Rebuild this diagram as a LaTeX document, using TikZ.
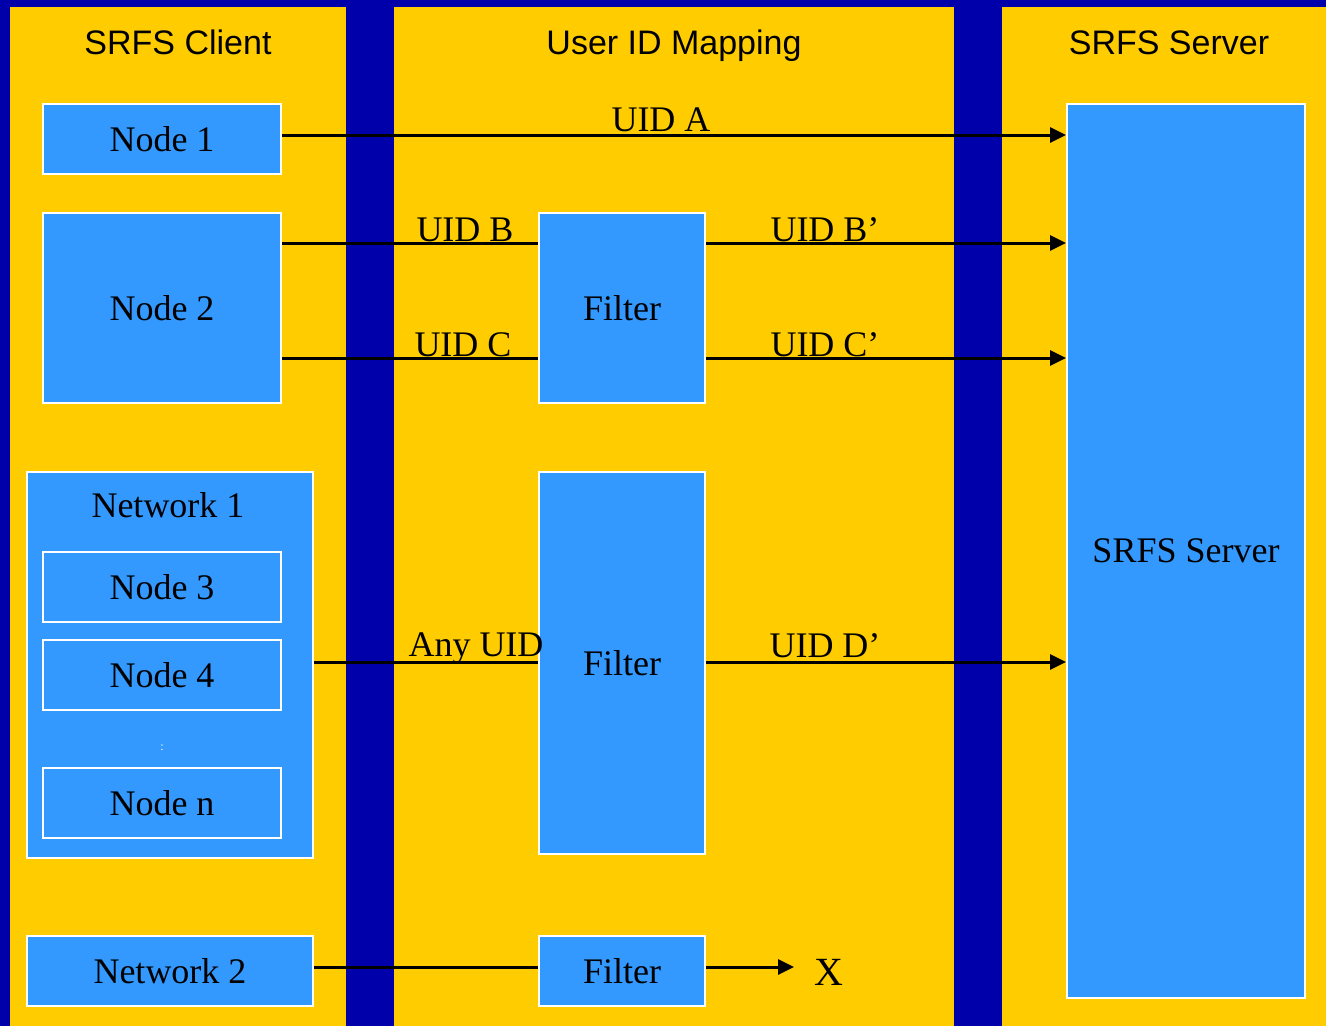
\documentclass[tikz,border=0pt]{standalone}
\usepackage{fontspec}
\setmainfont{Liberation Serif}
\newfontfamily\hdfont{Liberation Sans}
\usetikzlibrary{arrows.meta}
\definecolor{bgblue}{HTML}{0000AA}
\definecolor{coly}{HTML}{FFCC00}
\definecolor{boxblue}{HTML}{3399FF}
\tikzset{
  box/.style={draw=white, line width=2pt, fill=boxblue, inner sep=0pt, font=\fontsize{36}{40}\selectfont},
  hdr/.style={font=\hdfont\fontsize{34}{38}\selectfont, inner sep=0pt, anchor=base},
  lbl/.style={font=\fontsize{36}{40}\selectfont, inner sep=0pt, anchor=base},
  link/.style={line width=3pt},
  arr/.style={line width=3pt, -{Triangle[length=16pt,width=15pt]}}
}
\begin{document}
\begin{tikzpicture}[x=1pt,y=-1pt]
\useasboundingbox (0,0) rectangle (1326,1026);
\fill[bgblue] (0,0) rectangle (1326,1026);
\fill[coly] (10,7) rectangle (346,1026);
\fill[coly] (394,7) rectangle (954,1026);
\fill[coly] (1002,7) rectangle (1326,1026);
% headers
\node[hdr] (h1) at (178,54) {SRFS Client};
\node[hdr] (h2) at (674,54) {User ID Mapping};
\node[hdr] (h3) at (1169,54) {SRFS Server};
% client side
\node[box, minimum width=238pt, minimum height=70pt] (n1) at (162,139) {Node 1};
\node[box, minimum width=238pt, minimum height=190pt] (n2) at (162,308) {Node 2};
\node[box, minimum width=286pt, minimum height=386pt] (net1) at (170,665) {};
\node[lbl, anchor=center] (net1l) at (168,505) {Network 1};
\node[box, minimum width=238pt, minimum height=70pt] (n3) at (162,587) {Node 3};
\node[box, minimum width=238pt, minimum height=70pt] (n4) at (162,675) {Node 4};
\node[font=\fontsize{12}{14}\selectfont, text=white, inner sep=0pt] (dots) at (162,748) {:};
\node[box, minimum width=238pt, minimum height=70pt] (nn) at (162,803) {Node n};
\node[box, minimum width=286pt, minimum height=70pt] (net2) at (170,971) {Network 2};
% filters
\node[box, minimum width=166pt, minimum height=190pt] (f1) at (622,308) {Filter};
\node[box, minimum width=166pt, minimum height=382pt] (f2) at (622,663) {Filter};
\node[box, minimum width=166pt, minimum height=70pt] (f3) at (622,971) {Filter};
% server
\node[box, minimum width=238pt, minimum height=894pt] (srv) at (1186,551) {SRFS Server};
\node[font=\fontsize{40}{44}\selectfont, inner sep=0pt] (x) at (829,972) {X};
\coordinate (xend) at (794,967);
% connectors
\draw[arr] (n1.east |- 0,135) -- (srv.west |- 0,135);
\draw[link] (n2.east |- 0,243) -- (f1.west |- 0,243);
\draw[arr] (f1.east |- 0,243) -- (srv.west |- 0,243);
\draw[link] (n2.east |- 0,358) -- (f1.west |- 0,358);
\draw[arr] (f1.east |- 0,358) -- (srv.west |- 0,358);
\draw[link] (net1.east |- 0,662) -- (f2.west |- 0,662);
\draw[arr] (f2.east |- 0,662) -- (srv.west |- 0,662);
\draw[link] (net2.east |- 0,967) -- (f3.west |- 0,967);
\draw[arr] (f3.east |- 0,967) -- (xend);
% labels
\node[lbl] (la) at (661,131) {UID A};
\node[lbl] (lb) at (465,241) {UID B};
\node[lbl] (lb2) at (825,241) {UID B’};
\node[lbl] (lc) at (463,356) {UID C};
\node[lbl] (lc2) at (825,356) {UID C’};
\node[lbl] (lany) at (476,656) {Any UID};
\node[lbl] (ld) at (825,657) {UID D’};
\end{tikzpicture}
\end{document}
